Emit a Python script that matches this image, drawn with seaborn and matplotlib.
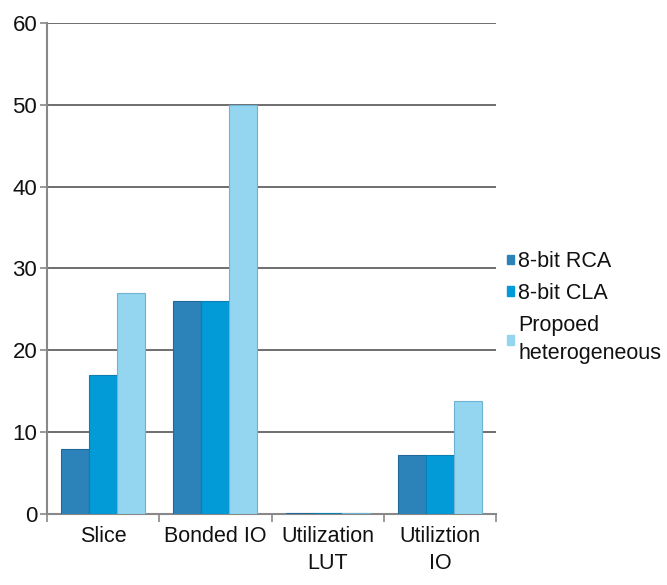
import matplotlib
matplotlib.use("Agg")
import matplotlib.pyplot as plt
import seaborn as sns
import pandas as pd
from matplotlib.patches import Patch
from matplotlib.ticker import FixedLocator

categories = ["Slice", "Bonded IO", "Utilization\nLUT", "Utiliztion\nIO"]
series_names = ["8-bit RCA", "8-bit CLA", "Propoed\nheterogeneous"]
rca = [8, 26, 0.15, 7.2]
cla = [17, 26, 0.15, 7.2]
het = [27, 50, 0.15, 13.8]
colors = ["#2b83b9", "#039bd7", "#94d5ef"]
edges = ["#1f6a9a", "#0a7fb3", "#6fb3d3"]

rows = []
for name, vals in zip(series_names, [rca, cla, het]):
    for c, v in zip(categories, vals):
        rows.append({"category": c, "series": name, "value": v})
df = pd.DataFrame(rows)

sns.set_theme(style="white")
plt.rcParams["font.family"] = ["Liberation Sans", "DejaVu Sans"]

fig = plt.figure(figsize=(6.67, 5.85), dpi=100)
ax = fig.add_axes([0.0705, 0.1214, 0.6731, 0.8393])

sns.barplot(data=df, x="category", y="value", hue="series", order=categories,
            hue_order=series_names, palette=colors, width=0.75, gap=0,
            saturation=1, ax=ax, legend=False, zorder=3)

for i, cont in enumerate(ax.containers):
    for bar in cont:
        bar.set_edgecolor(edges[i])
        bar.set_linewidth(0.8)

ax.set_ylim(0, 60)
ax.set_xlim(-0.5, len(categories) - 0.5)
ax.set_yticks(range(0, 61, 10))
ax.yaxis.grid(True, color="#555555", linewidth=1.2, zorder=0)
ax.set_axisbelow(True)
ax.set_xlabel("")
ax.set_ylabel("")

for s in ["top", "right"]:
    ax.spines[s].set_visible(False)
for s in ["left", "bottom"]:
    ax.spines[s].set_color("#888888")
    ax.spines[s].set_linewidth(1.5)

ax.tick_params(axis="y", which="major", length=5, width=1.2, color="#888888",
               labelsize=16, pad=2, left=True)
ax.tick_params(axis="x", which="major", length=0, labelsize=15.5, pad=9)
ax.xaxis.set_minor_locator(FixedLocator([i - 0.5 for i in range(len(categories) + 1)]))
ax.tick_params(axis="x", which="minor", length=6, width=1.2, color="#888888", bottom=True)
for lbl in ax.get_xticklabels():
    lbl.set_linespacing(1.35)
for lbl in ax.get_yticklabels() + ax.get_xticklabels():
    lbl.set_color("#111111")

handles = [Patch(facecolor=c, edgecolor=c) for c in colors]
leg = fig.legend(handles, series_names, loc="center left", bbox_to_anchor=(0.747, 0.474),
                 frameon=False, fontsize=15.5, handlelength=0.32, handleheight=0.32,
                 handletextpad=0.2, labelspacing=0.5, borderaxespad=0,
                 labelcolor="#111111")
for t in leg.get_texts():
    t.set_linespacing(1.45)

fig.savefig("out.png", dpi=100)
